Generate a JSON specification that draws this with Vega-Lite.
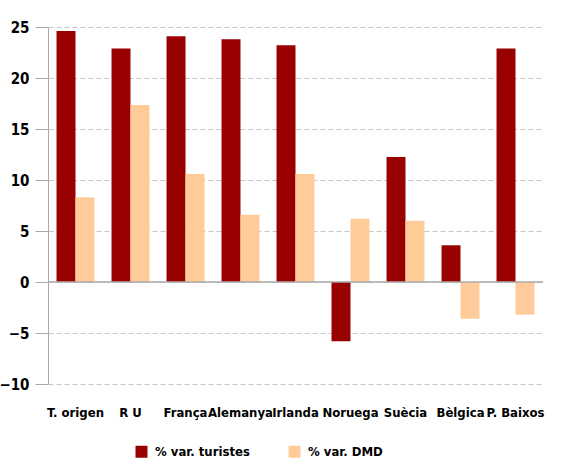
{
  "$schema": "https://vega.github.io/schema/vega-lite/v6.json",
  "width": 495,
  "height": 357,
  "autosize": "none",
  "padding": {"left": 48, "top": 27, "right": 32, "bottom": 86},
  "background": "white",
  "config": {
    "view": {"stroke": null},
    "font": "DejaVu Sans Condensed, sans-serif"
  },
  "data": {
    "values": [
      {"pais": "T. origen", "serie": "% var. turistes", "valor": 24.6},
      {"pais": "T. origen", "serie": "% var. DMD", "valor": 8.3},
      {"pais": "R U", "serie": "% var. turistes", "valor": 22.9},
      {"pais": "R U", "serie": "% var. DMD", "valor": 17.35},
      {"pais": "França", "serie": "% var. turistes", "valor": 24.1},
      {"pais": "França", "serie": "% var. DMD", "valor": 10.6},
      {"pais": "Alemanya", "serie": "% var. turistes", "valor": 23.8},
      {"pais": "Alemanya", "serie": "% var. DMD", "valor": 6.6},
      {"pais": "Irlanda", "serie": "% var. turistes", "valor": 23.2},
      {"pais": "Irlanda", "serie": "% var. DMD", "valor": 10.6},
      {"pais": "Noruega", "serie": "% var. turistes", "valor": -5.8},
      {"pais": "Noruega", "serie": "% var. DMD", "valor": 6.2},
      {"pais": "Suècia", "serie": "% var. turistes", "valor": 12.25},
      {"pais": "Suècia", "serie": "% var. DMD", "valor": 6.0},
      {"pais": "Bèlgica", "serie": "% var. turistes", "valor": 3.6},
      {"pais": "Bèlgica", "serie": "% var. DMD", "valor": -3.6},
      {"pais": "P. Baixos", "serie": "% var. turistes", "valor": 22.9},
      {"pais": "P. Baixos", "serie": "% var. DMD", "valor": -3.2}
    ]
  },
  "layer": [
    {
      "mark": {"type": "bar"},
      "encoding": {
        "x": {
          "field": "pais",
          "type": "nominal",
          "sort": null,
          "scale": {"paddingInner": 0.31, "paddingOuter": 0.155},
          "axis": {
            "title": null,
            "labelAngle": 0,
            "ticks": false,
            "domain": false,
            "labelPadding": 22,
            "labelFontSize": 13,
            "labelFontWeight": "bold",
            "labelColor": "black"
          }
        },
        "xOffset": {
          "field": "serie",
          "sort": ["% var. turistes", "% var. DMD"],
          "scale": {"paddingInner": 0, "paddingOuter": 0}
        },
        "y": {
          "field": "valor",
          "type": "quantitative",
          "scale": {"domain": [-10, 25], "nice": false},
          "axis": {
            "title": null,
            "values": [-10, -5, 0, 5, 10, 15, 20, 25],
            "domainColor": "#aaaaaa",
            "tickColor": "#aaaaaa",
            "tickSize": 13,
            "gridColor": "#c8c8c8",
            "gridDash": [5, 3],
            "labelPadding": 6,
            "labelFontSize": 15,
            "labelFontWeight": "bold",
            "labelColor": "black"
          }
        },
        "color": {
          "field": "serie",
          "type": "nominal",
          "scale": {
            "domain": ["% var. turistes", "% var. DMD"],
            "range": ["#990000", "#ffcc99"]
          },
          "legend": {
            "title": null,
            "orient": "none",
            "legendX": 87,
            "legendY": 418,
            "direction": "horizontal",
            "symbolType": "square",
            "symbolSize": 144,
            "symbolStrokeWidth": 0,
            "labelFontSize": 13,
            "labelFontWeight": "bold",
            "labelColor": "black",
            "labelOffset": 7,
            "columnPadding": 38
          }
        }
      }
    },
    {
      "data": {"values": [{"y": 0}]},
      "mark": {"type": "rule", "color": "#aaaaaa", "strokeWidth": 1.5},
      "encoding": {"y": {"field": "y", "type": "quantitative"}}
    }
  ]
}
